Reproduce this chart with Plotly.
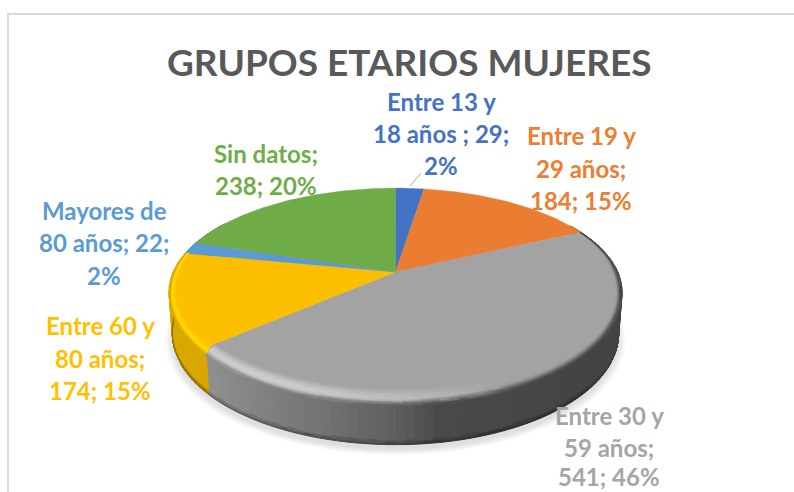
import math
import numpy as np
import plotly.graph_objects as go

# ---- data ----
categories = ["Entre 13 y 18 años", "Entre 19 y 29 años", "Entre 30 y 59 años",
              "Entre 60 y 80 años", "Mayores de 80 años", "Sin datos"]
values = [29, 184, 541, 174, 22, 238]
title_text = "GRUPOS ETARIOS MUJERES"
label_lines = [
    ["Entre 13 y", "18 años ; 29;", "2%"],
    ["Entre 19 y", "29 años;", "184; 15%"],
    ["Entre 30 y", "59 años;", "541; 46%"],
    ["Entre 60 y", "80 años;", "174; 15%"],
    ["Mayores de", "80 años; 22;", "2%"],
    ["Sin datos;", "238; 20%"],
]

# ---- styles and layout ----
colors = ["#4472C4", "#EA7D32", "#A3A3A3", "#FBBF00", "#5B9BD5", "#6FAB46"]
label_colors = ["#4472C4", "#ED7D31", "#A5A5A5", "#FFC000", "#5B9BD5", "#70AD47"]
label_pos = [(441, [101, 133, 165]), (581, [135, 168, 200]), (609, [415, 447, 476]),
             (100, [325, 358, 390]), (104, [210, 242, 275]), (266, [153, 185])]
FONT = "Lato"
CX, CY, A, B, K = 395.5, 272.0, 100.0, 222.3, 0.192
DEPTH, BOTTOM_SCALE = 41.0, 0.985
W, H = 794, 492
wall_x = [165, 205, 304, 395, 440, 625]
wall_m = [0.88, 0.88, 0.73, 0.58, 0.45, 0.41]

vals = np.array(values, float)
edges = np.concatenate([[0], np.cumsum(vals)]) / vals.sum() * 2 * math.pi


def face(phi, r=1.0):
    X, Y = r * np.sin(phi), r * np.cos(phi)
    w = 1 + K * Y
    return CX + B * X / w, CY - A * Y / w


def base(phi, frac=1.0):
    X, Y = np.sin(phi), np.cos(phi)
    w = 1 + K * Y
    s = 1 + (BOTTOM_SCALE - 1) * frac
    return CX + s * B * X / w, CY + frac * DEPTH / w - s * A * Y / w


def rim(phi, s, width):
    """Point of the rounded rim: s=0 on the flat top, s=1 where it meets the wall."""
    Y = math.cos(phi)
    spread = width * max(1 - 1.5 * max(Y, 0), 0.15)
    x, y = face(phi, 1 - spread * (1 - s))
    return x, y + 11 * s * max(-Y, 0)


def slice_of(phi):
    return min(int(np.searchsorted(edges, phi, side="right")) - 1, len(values) - 1)


def rgb(hexc, m):
    c = [int(hexc[i:i + 2], 16) for i in (1, 3, 5)]
    return "rgb(%d,%d,%d)" % tuple(min(255, round(v * m)) for v in c)


buckets = {}


def add_quad(col, xs, ys):
    b = buckets.setdefault(col, ([], []))
    b[0].extend(list(xs) + [xs[0], None])
    b[1].extend(list(ys) + [ys[0], None])


def flush(fig):
    for col, (x, y) in buckets.items():
        fig.add_trace(go.Scatter(x=x, y=y, mode="lines", fill="toself", fillcolor=col,
                                 line=dict(color=col, width=1), hoverinfo="skip", showlegend=False))
    buckets.clear()


fig = go.Figure()

# soft shadow under the pie
t = np.linspace(0, 2 * math.pi, 181)
for i in range(8):
    grow = 1.0 + 0.0045 * (7 - i)
    bx, by = base(t)
    fig.add_trace(go.Scatter(x=CX + (bx - CX) * grow, y=CY + 5 + (by - CY) * grow,
                             mode="lines", fill="toself", fillcolor="rgba(0,0,0,0.016)",
                             line=dict(width=0), hoverinfo="skip", showlegend=False))

# side wall, shaded across its width
bands = [(0.0, 0.91, 1.0), (0.91, 0.96, 0.85), (0.96, 1.0, 0.68)]
step = math.radians(2.0)
for phi in np.arange(math.radians(60), math.radians(300), step):
    p2 = phi + step
    col = colors[slice_of(phi + step / 2)]
    x1, _ = face(phi)
    x2, _ = face(p2)
    m = float(np.interp((x1 + x2) / 2, wall_x, wall_m))
    if col == colors[3]:
        m = 0.87
    for f0, f1, k in bands:
        ax, ay = base(phi, f0)
        bx_, by_ = base(p2, f0)
        cx_, cy_ = base(p2, f1)
        dx, dy = base(phi, f1)
        add_quad(rgb(col, round(m * k * 100) / 100), [ax, bx_, cx_, dx], [ay, by_, cy_, dy])
flush(fig)

# top face
for i, c in enumerate(colors):
    phi = np.linspace(edges[i], edges[i + 1], max(4, int((edges[i + 1] - edges[i]) * 60)))
    x, y = face(phi)
    fig.add_trace(go.Scatter(x=[CX] + list(x) + [CX], y=[CY] + list(y) + [CY], mode="lines", fill="toself",
                             fillcolor=c, line=dict(color=c, width=0.4), name=categories[i],
                             hoverinfo="skip", showlegend=False))

# rounded rim on the big near slices
rings = np.linspace(0.0, 1.0, 13)
step = math.radians(2.0)
for phi in np.arange(edges[2], edges[4], step):
    p2 = min(phi + step, edges[4])
    pm = (phi + p2) / 2
    col = colors[slice_of(pm)]
    X, Y = math.sin(pm), math.cos(pm)
    is_yellow = col == colors[3]
    if is_yellow:
        peak, width, end = 1.13, 0.03, 0.87
    else:
        lit = min(max((-0.35 * X - 0.45 * Y - 0.28) / 0.28, 0.0), 1.0)
        peak, width = 1 + 0.26 * lit, 0.055
        end = float(np.interp(face(pm)[0], wall_x, wall_m))
    for j in range(len(rings) - 1):
        s0, s1 = rings[j], rings[j + 1]
        sm = (s0 + s1) / 2
        if sm < 0.55:
            u = sm / 0.55
            m = 1 + (peak - 1) * u * u * (3 - 2 * u)
        else:
            u = (sm - 0.55) / 0.45
            m = peak + (end - peak) * u * u * (3 - 2 * u)
        x1, y1 = rim(phi, s0, width)
        x2, y2 = rim(p2, s0, width)
        x3, y3 = rim(p2, s1, width)
        x4, y4 = rim(phi, s1, width)
        add_quad(rgb(col, round(m * 60) / 60), [x1, x2, x3, x4], [y1, y2, y3, y4])
flush(fig)

# leader line of the smallest slice
fig.add_trace(go.Scatter(x=[421, 410], y=[173, 186], mode="lines", line=dict(color="#A6A6A6", width=1),
                         hoverinfo="skip", showlegend=False))

annotations = [dict(x=409, y=61, text="<b>%s</b>" % title_text, showarrow=False, xref="x", yref="y",
                    font=dict(family=FONT, size=37, color="#595959"), xanchor="center", yanchor="middle")]
for lines, (cx, ys), c in zip(label_lines, label_pos, label_colors):
    for line, y in zip(lines, ys):
        annotations.append(dict(x=cx, y=y, text="<b>%s</b>" % line, showarrow=False, xref="x", yref="y",
                                font=dict(family=FONT, size=24, color=c), xanchor="center", yanchor="middle"))

fig.update_layout(
    width=W, height=H, margin=dict(l=0, r=0, t=0, b=0), paper_bgcolor="white", plot_bgcolor="white",
    xaxis=dict(range=[0, W], visible=False, fixedrange=True),
    yaxis=dict(range=[H, 0], visible=False, fixedrange=True),
    showlegend=False, annotations=annotations,
    shapes=[dict(type="line", xref="x", yref="y", x0=8, x1=8, y0=14, y1=H, line=dict(color="#D9D9D9", width=2)),
            dict(type="line", xref="x", yref="y", x0=7, x1=W, y0=14, y1=14, line=dict(color="#D9D9D9", width=2))],
)
fig.write_html("out.html", config=dict(displayModeBar=False),
               post_script="document.body.style.margin='0';document.documentElement.style.overflow='hidden';")
